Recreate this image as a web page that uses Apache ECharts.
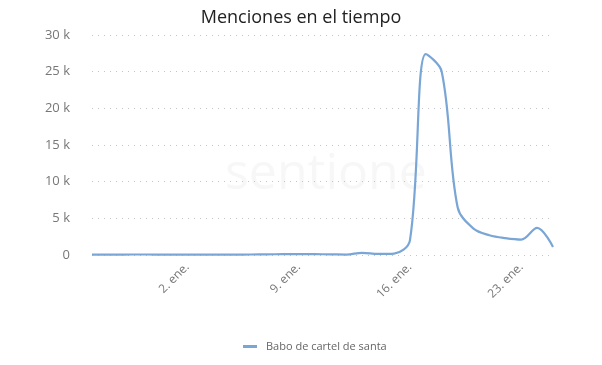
<!DOCTYPE html>
<html><head><meta charset="utf-8">
<script src="https://cdn.jsdelivr.net/npm/echarts@6/dist/echarts.min.js"></script>
<style>html,body{margin:0;padding:0;background:#fff}#c{width:602px;height:365px}</style>
</head><body><div id="c"></div>
<script>
const categories = ["27. dic.","28. dic.","29. dic.","30. dic.","31. dic.","1. ene.","2. ene.","3. ene.","4. ene.","5. ene.","6. ene.","7. ene.","8. ene.","9. ene.","10. ene.","11. ene.","12. ene.","13. ene.","14. ene.","15. ene.","16. ene.","17. ene.","18. ene.","19. ene.","20. ene.","21. ene.","22. ene.","23. ene.","24. ene.","25. ene."];
const mentions = [40,50,60,70,60,50,40,40,50,60,70,90,110,130,110,90,60,300,150,200,2000,27400,25000,6500,3600,2700,2300,2100,3700,1100];
const yTicks = [0,5000,10000,15000,20000,25000,30000];
const shownLabels = ["2. ene.","9. ene.","16. ene.","23. ene."];
const seriesName = "Babo de cartel de santa";
const chart = echarts.init(document.getElementById('c'));
chart.setOption({
  animation:false,
  title:{text:"Menciones en el tiempo",left:'center',top:4,textStyle:{fontFamily:'Open Sans',fontSize:18,fontWeight:'normal',color:'#222'}},
  graphic:[{type:'text',left:225,top:150,z:-1,style:{text:'sentione',fontFamily:'Open Sans',fontSize:50,fill:'#f7f7f7'}}],
  grid:{left:92,right:49,top:35,bottom:110},
  legend:{bottom:8,left:238,itemWidth:14,itemHeight:3,icon:'rect',textStyle:{fontFamily:'Open Sans',fontSize:11,color:'#666',padding:[0,0,0,4]},data:[seriesName]},
  xAxis:{type:'category',data:categories,boundaryGap:false,
    axisLine:{show:false},axisTick:{show:false},
    axisLabel:{rotate:45,fontFamily:'Open Sans',fontSize:12,color:'#777',margin:10,
      interval:function(i,v){return shownLabels.indexOf(v)>=0;}}},
  yAxis:{type:'value',min:yTicks[0],max:yTicks[yTicks.length-1],interval:5000,
    axisLabel:{fontFamily:'Open Sans',fontSize:13,color:'#777',margin:22,
      formatter:function(v){return v===0?'0':(v/1000)+' k';}},
    splitLine:{lineStyle:{type:[1,5],color:'#c4c4c4',width:1}}},
  series:[{name:seriesName,type:'line',data:mentions,smooth:0.35,showSymbol:false,
    lineStyle:{color:'#7aa6d6',width:2.2},itemStyle:{color:'#7aa6d6'}}]
});
</script></body></html>
